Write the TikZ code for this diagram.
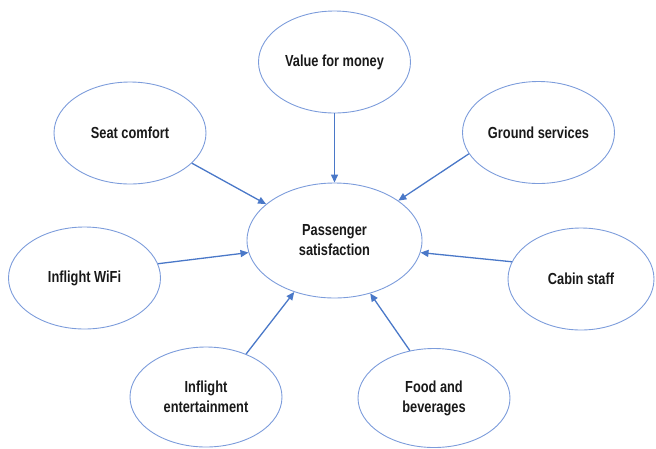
\documentclass[tikz,border=0pt]{standalone}
\usepackage{fontspec}
\setmainfont{Liberation Sans}[FakeStretch=0.8]
\usetikzlibrary{shapes.geometric,arrows.meta}

\definecolor{ringblue}{HTML}{7C9CDB}
\definecolor{arrowblue}{HTML}{4A78C8}

\begin{document}
\begin{tikzpicture}[x=1pt,y=-1pt,
    factor/.style={ellipse, draw=ringblue, line width=0.9pt, inner sep=0pt,
        minimum width=152pt, minimum height=102pt, align=center,
        font=\fontsize{16}{20}\selectfont\bfseries, text=black!90},
    link/.style={draw=arrowblue, line width=1.3pt, -{Triangle[length=8pt,width=7pt]}}]

    % Frame of the picture (pixel units, y running down)
    \useasboundingbox (0,0) rectangle (656,448);

    % 1. The outcome in the middle
    \node[factor, minimum width=175pt, minimum height=115pt] (PS) at (334.5,240.5) {Passenger\\satisfaction};

    % 2. The seven factors placed around it
    \node[factor] (VM) at (334.5,62) {Value for money};
    \node[factor] (SC) at (130,133) {Seat comfort};
    \node[factor] (GS) at (538.5,132.5) {Ground services};
    \node[factor] (WF) at (84.5,278) {Inflight WiFi};
    \node[factor, minimum width=146pt] (CS) at (581,279) {Cabin staff};
    \node[factor, minimum height=100pt] (IE) at (206,397) {Inflight\\entertainment};
    \node[factor, minimum height=99pt] (FB) at (434,398) {Food and\\beverages};

    % 3. Arrows from each factor to the outcome
    \draw[link] (VM.south) -- (PS.north);
    \draw[link] (SC.334) -- (PS.152);
    \draw[link] (GS.197) -- (PS.32);
    \draw[link] (WF.11) -- (PS.188);
    \draw[link] (CS.166) -- (PS.352);
    \draw[link] (IE.47) -- (PS.232);
    \draw[link] (FB.117) -- (PS.304);

\end{tikzpicture}
\end{document}
